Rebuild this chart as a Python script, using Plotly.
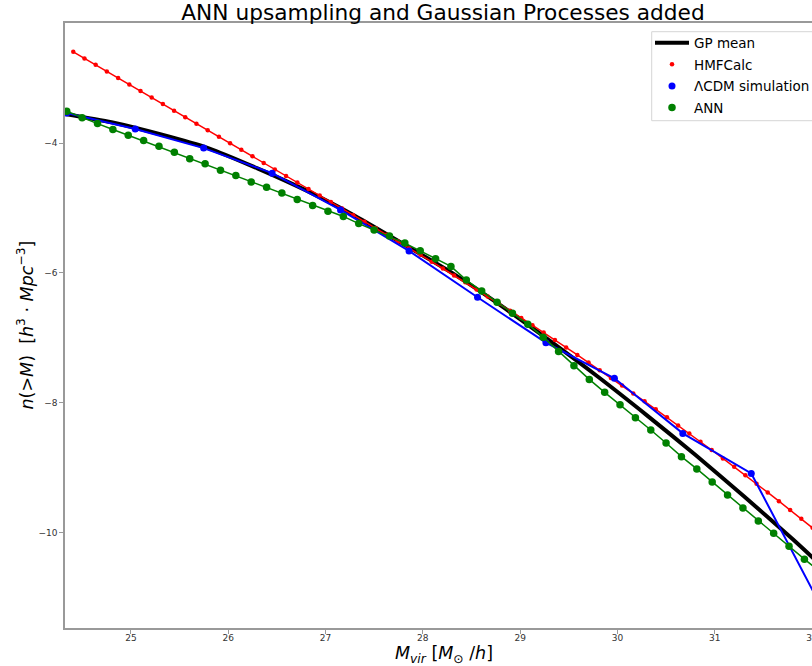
import plotly.graph_objects as go

# ---------------- data ----------------
# HMFCalc (red): ln(M) grid and n(>M)
hmf_x = [24.407, 24.522, 24.637, 24.752, 24.868, 24.983, 25.098, 25.213, 25.328, 25.443,
         25.558, 25.673, 25.789, 25.904, 26.019, 26.134, 26.249, 26.364, 26.479, 26.594,
         26.710, 26.825, 26.940, 27.055, 27.170, 27.285, 27.400, 27.515, 27.631, 27.746,
         27.861, 27.976, 28.091, 28.206, 28.321, 28.436, 28.552, 28.667, 28.782, 28.897,
         29.012, 29.127, 29.242, 29.358, 29.473, 29.588, 29.703, 29.818, 29.933, 30.048,
         30.163, 30.279, 30.394, 30.509, 30.624, 30.739, 30.854, 30.969, 31.084, 31.200,
         31.315, 31.430, 31.545, 31.660, 31.775, 31.890, 32.006, 32.121, 32.236]
hmf_y = [-2.594, -2.695, -2.795, -2.896, -2.997, -3.098, -3.198, -3.299, -3.399, -3.500,
         -3.600, -3.701, -3.802, -3.903, -4.003, -4.104, -4.204, -4.305, -4.405, -4.506,
         -4.607, -4.707, -4.808, -4.908, -5.009, -5.110, -5.210, -5.311, -5.413, -5.515,
         -5.619, -5.722, -5.827, -5.932, -6.039, -6.145, -6.255, -6.363, -6.473, -6.583,
         -6.694, -6.806, -6.919, -7.034, -7.149, -7.264, -7.381, -7.498, -7.617, -7.736,
         -7.856, -7.978, -8.101, -8.224, -8.349, -8.474, -8.601, -8.728, -8.858, -8.987,
         -9.118, -9.249, -9.382, -9.516, -9.651, -9.788, -9.926, -10.064, -10.204]

# LambdaCDM simulation (blue)
sim_x = [24.340, 25.044, 25.747, 26.451, 27.154, 27.858, 28.562, 29.265, 29.969, 30.672, 31.376, 32.080]
sim_y = [-3.537, -3.784, -4.077, -4.463, -5.030, -5.661, -6.375, -7.075, -7.624, -8.472, -9.089, -11.10]

# ANN upsampling (green)
ann_x = [24.340, 24.498, 24.656, 24.814, 24.972, 25.130, 25.288, 25.446, 25.604, 25.762,
         25.920, 26.078, 26.236, 26.394, 26.551, 26.709, 26.867, 27.025, 27.183, 27.341,
         27.499, 27.657, 27.815, 27.973, 28.131, 28.289, 28.447, 28.605, 28.763, 28.921,
         29.079, 29.237, 29.395, 29.553, 29.711, 29.869, 30.027, 30.185, 30.343, 30.500,
         30.658, 30.816, 30.974, 31.132, 31.290, 31.448, 31.606, 31.764, 31.922, 32.080]
ann_y = [-3.51, -3.61, -3.70, -3.79, -3.88, -3.96, -4.05, -4.14, -4.24, -4.32,
         -4.42, -4.50, -4.60, -4.68, -4.77, -4.87, -4.96, -5.05, -5.13, -5.24,
         -5.34, -5.43, -5.54, -5.66, -5.78, -5.90, -6.11, -6.28, -6.45, -6.62,
         -6.79, -6.99, -7.21, -7.43, -7.64, -7.84, -8.03, -8.23, -8.42, -8.62,
         -8.83, -9.02, -9.22, -9.42, -9.62, -9.82, -10.01, -10.21, -10.41, -10.60]

# Gaussian-process mean (black)
gp_x = [24.322, 24.8, 25.3, 25.8, 26.3, 26.8, 27.3, 27.8, 28.3, 28.8, 29.3, 29.8,
        30.3, 30.8, 31.3, 31.8, 32.096]
gp_y = [-3.55, -3.679, -3.864, -4.08, -4.389, -4.729, -5.119, -5.554, -6.00, -6.50,
        -7.04, -7.60, -8.19, -8.80, -9.44, -10.10, -10.51]

x_ticks = [25, 26, 27, 28, 29, 30, 31, 32]
y_ticks = [-10, -8, -6, -4]

TITLE = "ANN upsampling and Gaussian Processes added"
FONT = "DejaVu Sans"

# ---------------- figure ----------------
W, H = 812, 666
L, T, B = 65, 23, 38
PW, PH = W - L, H - T - B


def px_x(p):  # page pixel -> paper x
    return (p - L) / PW


def px_y(p):  # page pixel -> paper y
    return 1 - (p - T) / PH


fig = go.Figure()
fig.add_trace(go.Scatter(x=gp_x, y=gp_y, mode="lines", name="GP mean",
                         line=dict(color="black", width=4, shape="spline", smoothing=0.6),
                         legendgroup="a"))
fig.add_trace(go.Scatter(x=hmf_x, y=hmf_y, mode="lines", showlegend=False,
                         line=dict(color="#ff0000", width=1.5)))
fig.add_trace(go.Scatter(x=hmf_x, y=hmf_y, mode="markers", name="HMFCalc",
                         marker=dict(color="#ff0000", size=4.5), legendgroup="b"))
fig.add_trace(go.Scatter(x=sim_x, y=sim_y, mode="lines", showlegend=False,
                         line=dict(color="#0000ff", width=2)))
fig.add_trace(go.Scatter(x=sim_x, y=sim_y, mode="markers", name="ΛCDM simulation",
                         marker=dict(color="#0000ff", size=7), legendgroup="c"))
fig.add_trace(go.Scatter(x=ann_x, y=ann_y, mode="lines", showlegend=False,
                         line=dict(color="#008000", width=1.5)))
fig.add_trace(go.Scatter(x=ann_x, y=ann_y, mode="markers", name="ANN",
                         marker=dict(color="#008000", size=7.5), legendgroup="d"))

axis_common = dict(showgrid=False, zeroline=False, showline=True, linecolor="#999999",
                   linewidth=1.5, ticks="outside", ticklen=4, tickwidth=1,
                   tickcolor="#999999", automargin=False,
                   tickfont=dict(family=FONT, size=9, color="#333333"))

fig.update_xaxes(range=[24.322, 32.0], tickvals=x_ticks, mirror=True,
                 ticklabelstandoff=-4, ticklabeloverflow="allow", **axis_common)
fig.update_yaxes(range=[-11.47, -2.15], tickvals=y_ticks, mirror=False, **axis_common)

fig.update_layout(
    width=W, height=H,
    margin=dict(l=L, r=0, t=T, b=B, pad=0, autoexpand=False),
    paper_bgcolor="white", plot_bgcolor="white",
    font=dict(family=FONT, color="black"),
    title=dict(text=TITLE, x=443 / W, xref="container", xanchor="center",
               y=1 - 12 / H, yref="container", yanchor="middle",
               font=dict(family=FONT, size=21.7, color="black")),
    legend=dict(x=px_x(650), xanchor="left", y=px_y(27.5), yanchor="top",
                bgcolor="rgba(0,0,0,0)", borderwidth=0, itemwidth=34,
                font=dict(family=FONT, size=13.5, color="black"),
                tracegroupgap=1),
    shapes=[
        # legend frame (its right side runs off the page, as in the reference)
        dict(type="rect", xref="paper", yref="paper", layer="above",
             x0=px_x(651.7), x1=px_x(840), y0=px_y(120.7), y1=px_y(31.7),
             line=dict(color="#d5d5d5", width=1), fillcolor="rgba(255,255,255,0.85)"),
    ],
    annotations=[
        dict(text="<i>M</i><sub><i>vir</i></sub> [<i>M</i><sub>⊙</sub> /<i>h</i>]",
             xref="paper", yref="paper", x=px_x(444), y=px_y(654),
             xanchor="center", yanchor="middle", showarrow=False,
             font=dict(family=FONT, size=17.5, color="black")),
        dict(text="<i>n</i>(&gt;<i>M</i>)  [<i>h</i><sup>3</sup> · <i>Mpc</i><sup>−3</sup>]",
             xref="paper", yref="paper", x=px_x(25), y=0.5,
             xanchor="center", yanchor="middle", textangle=-90, showarrow=False,
             font=dict(family=FONT, size=17.5, color="black")),
    ],
)

fig.write_html("out.html", config={"displayModeBar": False},
               post_script="document.body.style.margin='0';document.body.style.overflow='hidden';")
